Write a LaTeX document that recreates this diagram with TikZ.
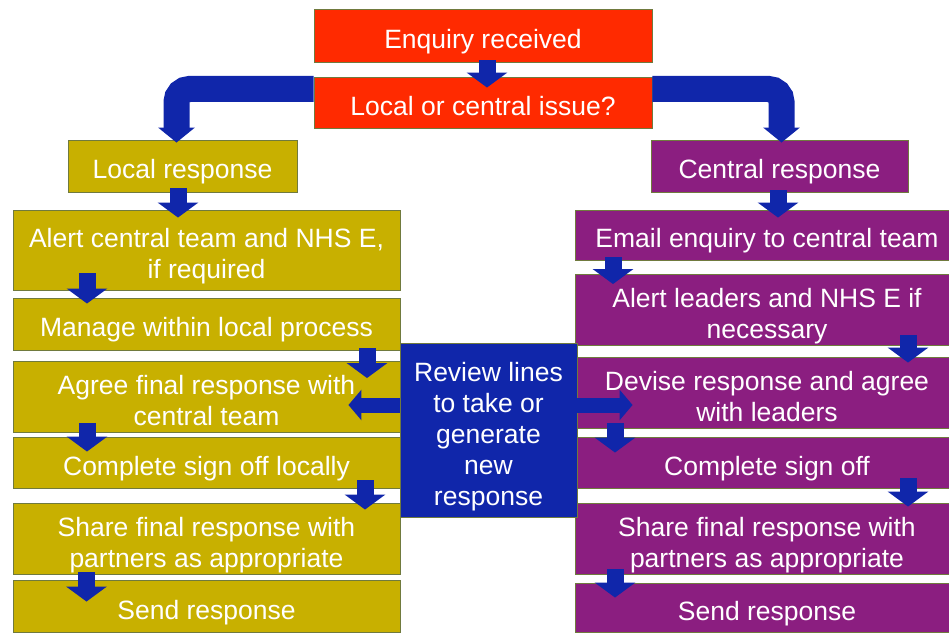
\documentclass[tikz,border=0pt]{standalone}
\usepackage{fontspec}
\setmainfont{Liberation Sans}
\usetikzlibrary{arrows.meta}
\definecolor{enqred}{RGB}{255,42,0}
\definecolor{locolive}{RGB}{200,176,0}
\definecolor{cenpurple}{RGB}{139,30,128}
\definecolor{revblue}{RGB}{16,38,170}
\definecolor{rimgreen}{RGB}{112,122,62}
\begin{document}
\begin{tikzpicture}[x=1pt,y=1pt,
  stage/.style={draw=rimgreen,line width=0.9pt,inner sep=0pt,text=white,align=center,
    font=\fontsize{26.5}{31}\selectfont,
    execute at begin node={\rule{0pt}{33pt}},execute at end node={\rule[-7pt]{0pt}{0pt}}},
  twolines/.style={text height=64pt,text depth=7pt},
  fivelines/.style={text height=157pt,text depth=7pt},
  redbox/.style={stage,fill=enqred,minimum width=338pt},
  localbox/.style={stage,fill=locolive,minimum width=387pt},
  centralbox/.style={stage,fill=cenpurple,minimum width=384pt},
  flow/.style={revblue,line width=17pt,-{Triangle[width=40pt,length=15pt]}},
  sideflow/.style={revblue,line width=15pt,-{Triangle[width=30pt,length=13pt]}},
  splitflow/.style={revblue,line width=26pt,rounded corners=13pt,-{Triangle[width=36pt,length=15pt]}}]
\useasboundingbox (0,0) rectangle (949,632);
\node[redbox,minimum height=53pt] (enq) at (483,596.5) {Enquiry received};
\node[redbox,minimum height=51pt] (issue) at (483,529.5) {Local or central issue?};
\node[stage,fill=locolive,minimum width=229pt,minimum height=52pt] (loc) at (182.5,466) {Local response};
\node[stage,fill=cenpurple,minimum width=257pt,minimum height=52pt] (cen) at (779.5,466) {Central response};
\node[localbox,twolines,minimum height=80pt] (lalert) at (206.5,382) {Alert central team and NHS E,\\ if required};
\node[localbox,minimum height=52pt] (lmanage) at (206.5,308) {Manage within local process};
\node[localbox,twolines,minimum height=70pt] (lagree) at (206.5,235) {Agree final response with\\ central team};
\node[localbox,minimum height=51pt] (lsign) at (206.5,169.5) {Complete sign off locally};
\node[localbox,twolines,minimum height=67pt] (lshare) at (206.5,93.5) {Share final response with\\ partners as appropriate};
\node[localbox,minimum height=52pt] (lsend) at (206.5,26) {Send response};
\node[centralbox,minimum height=50pt] (remail) at (767,397) {Email enquiry to central team};
\node[centralbox,twolines,minimum height=66pt] (ralert) at (767,322) {Alert leaders and NHS E if\\ necessary};
\node[centralbox,twolines,minimum height=71pt] (rdevise) at (767,239.5) {Devise response and agree\\ with leaders};
\node[centralbox,minimum height=51pt] (rsign) at (767,169.5) {Complete sign off};
\node[centralbox,twolines,minimum height=67pt] (rshare) at (767,93.5) {Share final response with\\ partners as appropriate};
\node[centralbox,minimum height=49pt] (rsend) at (767,24.5) {Send response};
\node[stage,fivelines,fill=revblue,minimum width=177pt,minimum height=174pt] (review) at (488.5,202)
 {Review lines\\ to take or\\ generate\\ new\\ response};
\draw[flow] ([xshift=4pt,yshift=2pt]enq.south) -- ([xshift=4pt,yshift=-11pt]issue.north);
\draw[splitflow] ([yshift=13.5pt]issue.west) -| ([xshift=-6pt,yshift=-3pt]loc.north);
\draw[splitflow] ([yshift=13.5pt]issue.east) -| ([xshift=2pt,yshift=-3pt]cen.north);
\draw[flow] ([xshift=-4.5pt,yshift=4pt]loc.south) -- ([xshift=-28.5pt,yshift=-8pt]lalert.north);
\draw[flow] ([xshift=-119.5pt,yshift=17pt]lalert.south) -- ([xshift=-119.5pt,yshift=-6pt]lmanage.north);
\draw[flow] ([xshift=160.5pt,yshift=2pt]lmanage.south) -- ([xshift=160.5pt,yshift=-17pt]lagree.north);
\draw[flow] ([xshift=-119.5pt,yshift=10pt]lagree.south) -- ([xshift=-119.5pt,yshift=-15pt]lsign.north);
\draw[flow] ([xshift=158.5pt,yshift=8pt]lsign.south) -- ([xshift=158.5pt,yshift=-7pt]lshare.north);
\draw[flow] ([xshift=-120pt,yshift=2pt]lshare.south) -- ([xshift=-120pt,yshift=-22pt]lsend.north);
\draw[flow] ([xshift=-1.5pt,yshift=2pt]cen.south) -- ([xshift=11pt,yshift=-8pt]remail.north);
\draw[flow] ([xshift=-154pt,yshift=3pt]remail.south) -- ([xshift=-154pt,yshift=-10pt]ralert.north);
\draw[flow] ([xshift=141pt,yshift=11pt]ralert.south) -- ([xshift=141pt,yshift=-6pt]rdevise.north);
\draw[flow] ([xshift=-152pt,yshift=5pt]rdevise.south) -- ([xshift=-152pt,yshift=-16pt]rsign.north);
\draw[flow] ([xshift=141pt,yshift=10pt]rsign.south) -- ([xshift=141pt,yshift=-4pt]rshare.north);
\draw[flow] ([xshift=-152pt,yshift=5pt]rshare.south) -- ([xshift=-152pt,yshift=-15pt]rsend.north);
\draw[sideflow] ([yshift=25pt]review.west) -- ([xshift=-52pt,yshift=-8pt]lagree.east);
\draw[sideflow] ([yshift=25pt]review.east) -- ([xshift=58pt,yshift=-12.5pt]rdevise.west);
\end{tikzpicture}
\end{document}
